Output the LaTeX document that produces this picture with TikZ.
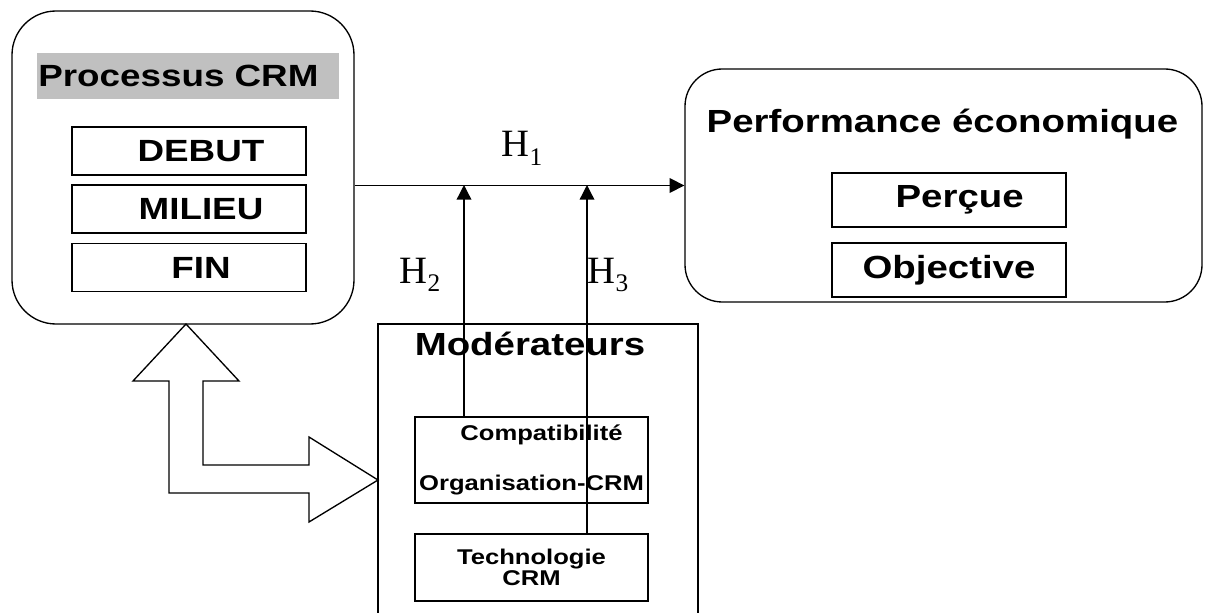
\documentclass[tikz,border=0pt]{standalone}
\usepackage{fontspec}
\setmainfont{Liberation Serif}
\newfontfamily\lblfont[FakeStretch=1.2]{Liberation Sans}
\usetikzlibrary{arrows.meta}
\definecolor{titlegray}{HTML}{C0C0C0}
\newcommand{\lblbig}{\lblfont\bfseries\fontsize{24}{28}\selectfont}
\newcommand{\lblproc}{\lblfont\bfseries\fontsize{23}{27}\selectfont}
\newcommand{\lblsmall}{\lblfont\bfseries\fontsize{16}{15.5}\selectfont\lineskiplimit=-100pt}
\newcommand{\hlab}[1]{{\fontsize{29}{32}\selectfont H\raisebox{-6pt}{\fontsize{19}{22}\selectfont #1}}}

\begin{document}
\begin{tikzpicture}[x=0.75pt,y=-0.75pt,line width=1pt]
  \tikzset{
    roundbox/.style={draw, rectangle, rounded corners=#1},
    phasebox/.style={draw, rectangle, minimum width=175.5pt, minimum height=36pt, inner sep=1pt, font=\lblbig},
    modbox/.style={draw, rectangle, minimum width=174.75pt, inner sep=1pt, align=center, font=\lblsmall},
    hyp/.style={-{Triangle[length=11pt,width=11pt]}}
  }
  \useasboundingbox (0,0) rectangle (1210,613);
  \clip (0,0) rectangle (1210,613);

  % Processus CRM
  \node[roundbox=33pt, minimum width=256.5pt, minimum height=234.75pt] (proc) at (183,167.5) {};
  \node[fill=titlegray, minimum height=34.5pt, text width=224.5pt, inner xsep=1pt, inner ysep=0pt, align=left, font=\lblproc] (proctitle) at (188,76) {Processus CRM};
  \foreach \name/\word/\y in {debut/DEBUT/151,milieu/MILIEU/209,fin/FIN/267.5}{
    \node[phasebox, font=\lblproc] (\name) at (189,\y) {\hspace*{18pt}\word};
  }

  % Performance economique
  \node[roundbox=28pt, minimum width=387.75pt, minimum height=174.75pt] (perf) at (943.5,185.5) {};
  \node[anchor=base, font=\lblbig] (perftitle) at (942.5,133) {Performance économique};
  \node[phasebox, minimum height=40.5pt] (percue) at (949,200) {\hspace*{16pt}Perçue};
  \node[phasebox, minimum height=40.5pt] (objective) at (949,270) {Objective};

  % Moderateurs
  \node[draw, rectangle, minimum width=240pt, minimum height=229.5pt] (mod) at (538,477) {};
  \node[anchor=base, font=\lblbig] (modtitle) at (530,355) {Modérateurs};
  \node[modbox, minimum height=64.5pt] (compat) at (531.5,460) {\hspace*{15pt}Compatibilité\\[22pt]Organisation-CRM};
  \node[modbox, minimum height=50.25pt] (techno) at (531.5,567.5) {Technologie\\CRM};

  % hypotheses
  \coordinate (j2) at (464,185);
  \coordinate (j3) at (587,185);
  \draw[hyp] (proc.east |- perf.west) -- (perf.west);
  \draw[hyp] (compat.north -| j2) -- (j2);
  \draw[hyp] (techno.north -| j3) -- (j3);
  \node[anchor=base west, inner sep=0pt] (h1) at (501,157) {\hlab{1}};
  \node[anchor=base west, inner sep=0pt] (h2) at (399,283) {\hlab{2}};
  \node[anchor=base west, inner sep=0pt] (h3) at (587,283) {\hlab{3}};

  % double arrow
  \draw (186,324) -- (239,381) -- (203,381) -- (203,465) -- (309,465) -- (309,437)
    -- (378,480) -- (309,522) -- (309,493) -- (169,493) -- (169,381) -- (133,381) -- cycle;
\end{tikzpicture}
\end{document}
